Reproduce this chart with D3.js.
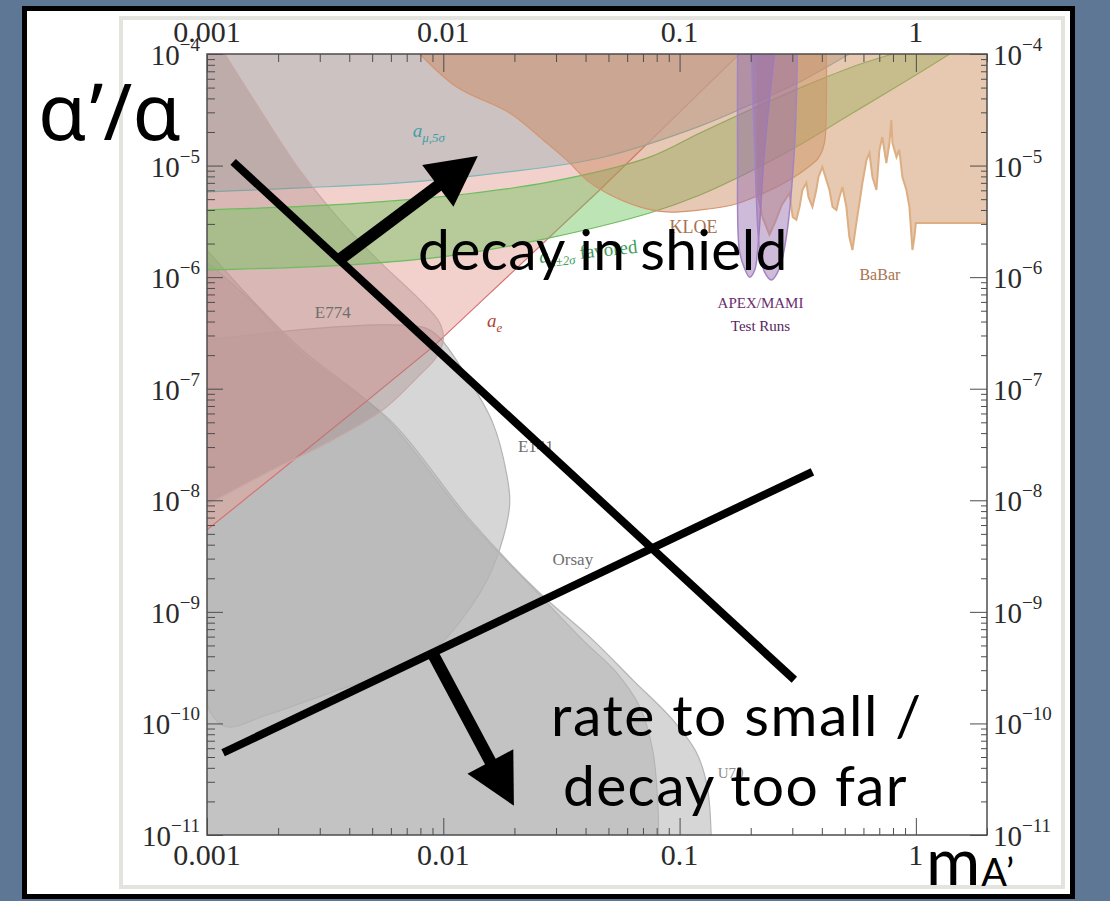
<!DOCTYPE html>
<html>
<head>
<meta charset="utf-8">
<script src="https://cdnjs.cloudflare.com/ajax/libs/d3/7.8.5/d3.min.js"></script>
<style>
  html, body { margin: 0; padding: 0; background: #5e7795; }
  svg { display: block; }
</style>
</head>
<body>
<svg id="chart" width="1110" height="901"></svg>
<script>
'use strict';

// x: m_A' (GeV), y: alpha'/alpha
const xMajor = [0.001, 0.01, 0.1, 1];
const xTickLabels = ['0.001', '0.01', '0.1', '1'];
const yMajor = [1e-4, 1e-5, 1e-6, 1e-7, 1e-8, 1e-9, 1e-10, 1e-11];
const yExponents = ['\u22124', '\u22125', '\u22126', '\u22127', '\u22128', '\u22129', '\u221210', '\u221211'];

// beam dump exclusions
const e774Edge = [[0.00119, 1e-4], [0.00168, 3.15e-5], [0.00247, 9.1e-6], [0.00365, 3.26e-6], [0.00539, 1.37e-6],
  [0.00796, 6.25e-7], [0.00966, 3.89e-7], [0.0100, 2.74e-7], [0.00929, 1.89e-7], [0.00796, 1.33e-7],
  [0.00555, 6.46e-8], [0.00341, 3.48e-8], [0.00179, 1.76e-8], [0.001, 9.1e-9]];
const e141Edge = [[0.001, 2.74e-7], [0.00247, 3.37e-7], [0.00539, 3.73e-7], [0.00836, 3.51e-7], [0.00966, 2.85e-7],
  [0.0126, 1.28e-7], [0.0162, 4.94e-8], [0.0185, 1.76e-8], [0.0191, 9.29e-9], [0.0173, 3.6e-9], [0.0147, 1.64e-9],
  [0.0106, 6.22e-10], [0.00903, 4.56e-10], [0.00655, 3.08e-10], [0.00341, 1.92e-10], [0.00179, 1.19e-10],
  [0.00121, 9.33e-11], [0.00103, 1.27e-10], [0.001, 1.63e-10]];
const orsayEdge = [[0.001, 1.75e-6], [0.00148, 6.93e-7], [0.00247, 2.32e-7], [0.00555, 5.82e-8], [0.0126, 6.81e-9],
  [0.0239, 1.64e-9], [0.0389, 5.61e-10], [0.0542, 2.84e-10], [0.0678, 1.41e-10], [0.0769, 5.8e-11],
  [0.0807, 2.07e-11], [0.0815, 1e-11]];
const u70Edge = [[0.001, 1.37e-6], [0.00152, 6.25e-7], [0.00247, 2.14e-7], [0.00594, 5.25e-8], [0.0129, 6.81e-9],
  [0.0248, 1.57e-9], [0.0429, 5.61e-10], [0.0633, 2.46e-10], [0.0934, 1.08e-10], [0.118, 5.45e-11],
  [0.131, 2.7e-11], [0.136, 1e-11]];

// g-2 constraints
const aeEdge = [[0.001, 5.43e-9], [0.00247, 2.55e-8], [0.00475, 7.78e-8], [0.00903, 2.37e-7], [0.0147, 6.25e-7],
  [0.0459, 6.04e-6], [0.179, 1e-4]];
const amuEdge = [[0.001, 5.8e-6], [0.00247, 6.3e-6], [0.00655, 6.99e-6], [0.0173, 8.6e-6], [0.0459, 1.17e-5],
  [0.122, 2.26e-5], [0.198, 3.49e-5], [0.322, 5.61e-5], [0.523, 1e-4]];
const favoredUpper = [[0.001, 4.0e-6], [0.00402, 4.53e-6], [0.0106, 5.34e-6], [0.0282, 7.13e-6], [0.0747, 1.19e-5],
  [0.122, 1.96e-5], [0.198, 3.15e-5], [0.322, 4.95e-5], [0.523, 7.5e-5], [0.796, 1e-4]];
const favoredLower = [[0.001, 1.16e-6], [0.00402, 1.29e-6], [0.0106, 1.55e-6], [0.0282, 2.25e-6], [0.0747, 3.76e-6],
  [0.122, 5.45e-6], [0.198, 8.8e-6], [0.322, 1.53e-5], [0.523, 2.84e-5], [0.851, 5.27e-5], [1.39, 1e-4]];

// e+e- collider searches
const kloeEdge = [[0.00796, 1e-4], [0.0114, 5.06e-5], [0.0191, 2.96e-5], [0.0256, 1.8e-5], [0.0333, 1.12e-5],
  [0.0404, 7.43e-6], [0.0491, 5.68e-6], [0.0678, 4.26e-6], [0.0881, 3.84e-6], [0.122, 4.0e-6], [0.167, 4.43e-6],
  [0.218, 5.45e-6], [0.292, 7.43e-6], [0.351, 9.7e-6], [0.387, 1.17e-5], [0.41, 1.59e-5], [0.418, 3.87e-5],
  [0.418, 1e-4]];
const babarEdge = [[0.212, 6.0e-6], [0.225, 3.4e-6], [0.24, 2.4e-6], [0.255, 3.2e-6], [0.27, 4.4e-6], [0.292, 5.68e-6],
  [0.301, 3.46e-6], [0.312, 3.26e-6], [0.322, 4.26e-6], [0.331, 6.04e-6], [0.344, 6.99e-6], [0.351, 5.24e-6],
  [0.365, 4.26e-6], [0.379, 6.04e-6], [0.387, 7.91e-6], [0.402, 9.7e-6], [0.418, 7.43e-6], [0.431, 6.04e-6],
  [0.444, 4.26e-6], [0.461, 4.0e-6], [0.475, 5.24e-6], [0.489, 6.43e-6], [0.508, 4.26e-6], [0.523, 2.29e-6],
  [0.539, 1.75e-6], [0.56, 3.06e-6], [0.577, 4.62e-6], [0.594, 6.99e-6], [0.618, 1.12e-5], [0.636, 1.3e-5],
  [0.655, 7.91e-6], [0.681, 6.04e-6], [0.701, 1.38e-5], [0.721, 1.8e-5], [0.75, 1.05e-5], [0.773, 1.59e-5],
  [0.787, 2.56e-5], [0.796, 1.59e-5], [0.828, 1.19e-5], [0.851, 1.38e-5], [0.877, 7.91e-6], [0.912, 6.04e-6],
  [0.939, 4.26e-6], [0.967, 1.75e-6], [0.986, 2.29e-6], [1.0, 3.06e-6], [2.0, 3.06e-6]];

// APEX / MAMI test runs
const apexLobeA = [[0.176, 1e-4], [0.176, 1.38e-5], [0.179, 1.75e-6], [0.188, 1.21e-6], [0.198, 1.0e-6],
  [0.208, 1.16e-6], [0.214, 1.75e-6], [0.229, 1.38e-5], [0.252, 1e-4]];
const apexLobeB = [[0.201, 1e-4], [0.208, 1.38e-5], [0.218, 1.75e-6], [0.229, 1.11e-6], [0.245, 9.44e-7],
  [0.265, 1.21e-6], [0.283, 2.29e-6], [0.306, 1.38e-5], [0.315, 1e-4]];

// slide annotations
const cutLines = [
  [[0.00129, 1.08e-5], [0.306, 2.46e-10]],
  [[0.00117, 5.46e-11], [0.365, 1.8e-8]]
];
const arrows = [
  [[0.00358, 1.4e-6], [0.014, 1.22e-5]],
  [[0.00912, 4.04e-10], [0.0199, 1.83e-11]]
];

const W = 1110, H = 901;
const svg = d3.select('#chart');

const x = d3.scaleLog().domain([0.001, 2]).range([207, 987]);
const y = d3.scaleLog().domain([1e-11, 1e-4]).range([835, 54]);

const smooth = d3.line().x(d => x(d[0])).y(d => y(d[1])).curve(d3.curveCatmullRom.alpha(0.5));
const straight = d3.line().x(d => x(d[0])).y(d => y(d[1]));

function regionPath(edge, corners, gen) {
  let p = gen(edge);
  corners.forEach(c => {
    p += 'L' + x(c[0]) + ',' + y(c[1]);
  });
  return p + 'Z';
}

//Slide background and frame
svg.append('rect').attr('width', W).attr('height', H).attr('fill', '#5e7795');
svg.append('rect')
  .attr('x', 24.5).attr('y', 8.5).attr('width', 1048).attr('height', 888)
  .attr('fill', '#fff').attr('stroke', '#000').attr('stroke-width', 5);
svg.append('rect')
  .attr('x', 121).attr('y', 18).attr('width', 942).attr('height', 869)
  .attr('fill', '#fff').attr('stroke', '#e3e3df').attr('stroke-width', 4);

svg.append('clipPath').attr('id', 'plot-clip')
  .append('rect')
  .attr('x', x.range()[0]).attr('y', y.range()[1])
  .attr('width', x.range()[1] - x.range()[0])
  .attr('height', y.range()[0] - y.range()[1]);

const plot = svg.append('g').attr('clip-path', 'url(#plot-clip)');

const corner = {
  topLeft: [[0.001, 1e-4]],
  bottomLeft: [[0.001, 1e-11]],
  none: [],
  babar: [[2.0, 1e-4], [0.212, 1e-4]]
};

const regions = [
  { edge: orsayEdge, corners: corner.bottomLeft, fill: '#b4b4b4', opacity: 0.55, stroke: '#b4b4b4' },
  { edge: u70Edge, corners: corner.bottomLeft, fill: '#b4b4b4', opacity: 0.55, stroke: '#b4b4b4' },
  { edge: e141Edge, corners: corner.none, fill: '#b4b4b4', opacity: 0.55, stroke: '#b4b4b4' },
  { edge: aeEdge, corners: corner.topLeft, fill: '#e6a49c', opacity: 0.5, stroke: '#d87272', gen: straight },
  { edge: amuEdge, corners: corner.topLeft, fill: '#bcbcbc', opacity: 0.72, stroke: '#7cb8b8' },
  { edge: e774Edge, corners: corner.topLeft, fill: '#9a7272', opacity: 0.28, stroke: '#c9a7a7' }
];

regions.forEach(r => {
  const gen = r.gen || smooth;
  plot.append('path')
    .attr('d', regionPath(r.edge, r.corners, gen))
    .attr('fill', r.fill)
    .attr('fill-opacity', r.opacity)
    .attr('stroke', 'none');
  plot.append('path')
    .attr('d', gen(r.edge))
    .attr('fill', 'none')
    .attr('stroke', r.stroke)
    .attr('stroke-width', 1.2);
});

// a_mu +- 2 sigma favoured band
plot.append('path')
  .attr('d', smooth(favoredUpper) + smooth(favoredLower.slice().reverse()).replace(/^M/, 'L') + 'Z')
  .attr('fill', '#6cc35c')
  .attr('fill-opacity', 0.45);
[favoredUpper, favoredLower].forEach(edge => {
  plot.append('path')
    .attr('d', smooth(edge))
    .attr('fill', 'none')
    .attr('stroke', '#6cbd5e')
    .attr('stroke-width', 1.2);
});

// KLOE
plot.append('path')
  .attr('d', regionPath(kloeEdge, corner.none, smooth))
  .attr('fill', '#c8845c')
  .attr('fill-opacity', 0.45)
  .attr('stroke', '#d4956f')
  .attr('stroke-width', 1.2);

// BaBar
plot.append('path')
  .attr('d', regionPath(babarEdge, corner.babar, straight))
  .attr('fill', '#d09868')
  .attr('fill-opacity', 0.52)
  .attr('stroke', 'none');
plot.append('path')
  .attr('d', straight(babarEdge))
  .attr('fill', 'none')
  .attr('stroke', '#dcae82')
  .attr('stroke-width', 2);

// APEX/MAMI
[apexLobeA, apexLobeB].forEach(lobe => {
  plot.append('path')
    .attr('d', regionPath(lobe, corner.none, smooth))
    .attr('fill', '#9870b0')
    .attr('fill-opacity', 0.48)
    .attr('stroke', '#a484c0')
    .attr('stroke-width', 1.5);
});

// Region labels
const serif = "'Liberation Serif', 'Times New Roman', serif";
const regionLabels = [
  { text: 'E774', m: 0.00286, a: 4.31e-7, color: '#6e6e6e', size: 17 },
  { text: 'E141', m: 0.0207, a: 2.72e-8, color: '#6e6e6e', size: 17 },
  { text: 'Orsay', m: 0.029, a: 2.64e-9, color: '#6e6e6e', size: 17 },
  { text: 'U70', m: 0.145, a: 3.26e-11, color: '#8c8c8c', size: 15 },
  { text: 'KLOE', m: 0.0907, a: 2.49e-6, color: '#a8734e', size: 18 },
  { text: 'BaBar', m: 0.577, a: 9.44e-7, color: '#a8734e', size: 16 },
  { text: 'APEX/MAMI', m: 0.22, a: 5.3e-7, color: '#6a2d6e', size: 15, anchor: 'middle' },
  { text: 'Test Runs', m: 0.22, a: 3.3e-7, color: '#5a2560', size: 15, anchor: 'middle' }
];
svg.append('g')
  .selectAll('text')
  .data(regionLabels)
  .join('text')
  .attr('x', d => x(d.m))
  .attr('y', d => y(d.a))
  .attr('text-anchor', d => d.anchor || 'start')
  .attr('font-family', serif)
  .attr('font-size', d => d.size)
  .attr('fill', d => d.color)
  .text(d => d.text);

function subLabel(m, a, base, sub, rest, color, size, angle) {
  const t = svg.append('text')
    .attr('transform', `translate(${x(m)},${y(a)}) rotate(${angle})`)
    .attr('font-family', serif)
    .attr('font-size', size)
    .attr('fill', color);
  t.append('tspan').attr('font-style', 'italic').text(base);
  t.append('tspan').attr('font-style', 'italic').attr('font-size', size * 0.68).attr('dy', size * 0.25).text(sub);
  if (rest) {
    t.append('tspan').attr('dy', -size * 0.25).text(rest);
  }
}
subLabel(0.00743, 1.8e-5, 'a', '\u03bc,5\u03c3', '', '#3e9ea6', 19, 0);
subLabel(0.0153, 3.58e-7, 'a', 'e', '', '#b04434', 19, 0);
subLabel(0.0256, 1.34e-6, 'a', '\u03bc\u00b12\u03c3', ' favored', '#3f9e5a', 19, -6);

//Axes: ticks on all four sides
const xMinor = x.ticks().filter(v => !xMajor.some(t => Math.abs(t - v) < 1e-12));
const yMinor = y.ticks().filter(v => !yMajor.some(t => Math.abs(t - v) / t < 1e-6));

function tickAxis(axis, values, size, transform) {
  svg.append('g')
    .attr('transform', transform)
    .call(axis.tickValues(values).tickSize(-size).tickFormat(''))
    .call(g => g.select('.domain').remove())
    .call(g => g.selectAll('line').attr('stroke', '#4d4d4d'));
}
tickAxis(d3.axisBottom(x), xMajor, 17, `translate(0,${y.range()[0]})`);
tickAxis(d3.axisBottom(x), xMinor, 7, `translate(0,${y.range()[0]})`);
tickAxis(d3.axisTop(x), xMajor, 18, `translate(0,${y.range()[1]})`);
tickAxis(d3.axisTop(x), xMinor, 8, `translate(0,${y.range()[1]})`);
tickAxis(d3.axisLeft(y), yMajor, 16, `translate(${x.range()[0]},0)`);
tickAxis(d3.axisLeft(y), yMinor, 8, `translate(${x.range()[0]},0)`);
tickAxis(d3.axisRight(y), yMajor, 17, `translate(${x.range()[1]},0)`);
tickAxis(d3.axisRight(y), yMinor, 6, `translate(${x.range()[1]},0)`);

svg.append('rect')
  .attr('x', x.range()[0]).attr('y', y.range()[1])
  .attr('width', x.range()[1] - x.range()[0])
  .attr('height', y.range()[0] - y.range()[1])
  .attr('fill', 'none')
  .attr('stroke', '#4d4d4d')
  .attr('stroke-width', 1.5);

// x tick labels, top and bottom
[[y.range()[1] - 12], [y.range()[0] + 30]].forEach(([ty]) => {
  svg.append('g')
    .selectAll('text')
    .data(xMajor)
    .join('text')
    .attr('x', d => x(d))
    .attr('y', ty)
    .attr('text-anchor', 'middle')
    .attr('font-family', serif)
    .attr('font-size', 30)
    .attr('fill', '#2a2a2a')
    .text((d, i) => xTickLabels[i]);
});

// y tick labels, left and right
[{ tx: 200, anchor: 'end' }, { tx: 993, anchor: 'start' }].forEach(side => {
  const t = svg.append('g')
    .selectAll('text')
    .data(yMajor)
    .join('text')
    .attr('x', side.tx)
    .attr('y', d => y(d) + 11)
    .attr('text-anchor', side.anchor)
    .attr('font-family', serif)
    .attr('font-size', 29)
    .attr('fill', '#2a2a2a');
  t.append('tspan').text('10');
  t.append('tspan').attr('font-size', 19).attr('dy', -14).text((d, i) => yExponents[i]);
});

// Slide annotations
const sans = "Lato, 'Open Sans', 'Noto Sans', sans-serif";
const ink = svg.append('g');

cutLines.forEach(l => {
  ink.append('line')
    .attr('x1', x(l[0][0])).attr('y1', y(l[0][1]))
    .attr('x2', x(l[1][0])).attr('y2', y(l[1][1]))
    .attr('stroke', '#000')
    .attr('stroke-width', 8);
});

arrows.forEach(a => {
  const x0 = x(a[0][0]), y0 = y(a[0][1]), x1 = x(a[1][0]), y1 = y(a[1][1]);
  const len = Math.hypot(x1 - x0, y1 - y0);
  const ux = (x1 - x0) / len, uy = (y1 - y0) / len;
  const head = 50, half = 26;
  const bx = x1 - ux * head, by = y1 - uy * head;
  ink.append('line')
    .attr('x1', x0).attr('y1', y0)
    .attr('x2', bx + ux * 4).attr('y2', by + uy * 4)
    .attr('stroke', '#000')
    .attr('stroke-width', 12);
  ink.append('path')
    .attr('d', `M${x1},${y1}L${bx - uy * half},${by + ux * half}L${bx + uy * half},${by - ux * half}Z`)
    .attr('fill', '#000');
});

const bigText = [
  { text: 'decay in shield', tx: 418, ty: 270, spacing: 0.3 },
  { text: 'rate to small /', tx: 551, ty: 736, spacing: 1.6 },
  { text: 'decay too far', tx: 563, ty: 806, spacing: 1.3 }
];
ink.selectAll('text.big')
  .data(bigText)
  .join('text')
  .attr('class', 'big')
  .attr('x', d => d.tx)
  .attr('y', d => d.ty)
  .attr('font-family', sans)
  .attr('font-size', 57)
  .attr('letter-spacing', d => d.spacing)
  .attr('fill', '#000')
  .text(d => d.text);

ink.append('text')
  .attr('x', 38).attr('y', 140)
  .attr('font-family', "'Noto Sans', 'DejaVu Sans', sans-serif")
  .attr('font-size', 78)
  .attr('fill', '#000')
  .text('\u03b1\u2019/\u03b1');

const mLabel = ink.append('text')
  .attr('x', 926).attr('y', 885)
  .attr('font-family', sans)
  .attr('font-size', 66)
  .attr('letter-spacing', 1)
  .attr('fill', '#000');
mLabel.append('tspan').text('m');
mLabel.append('tspan').attr('font-size', 38).attr('dy', 1).text('A\u2019');
</script>
</body>
</html>
